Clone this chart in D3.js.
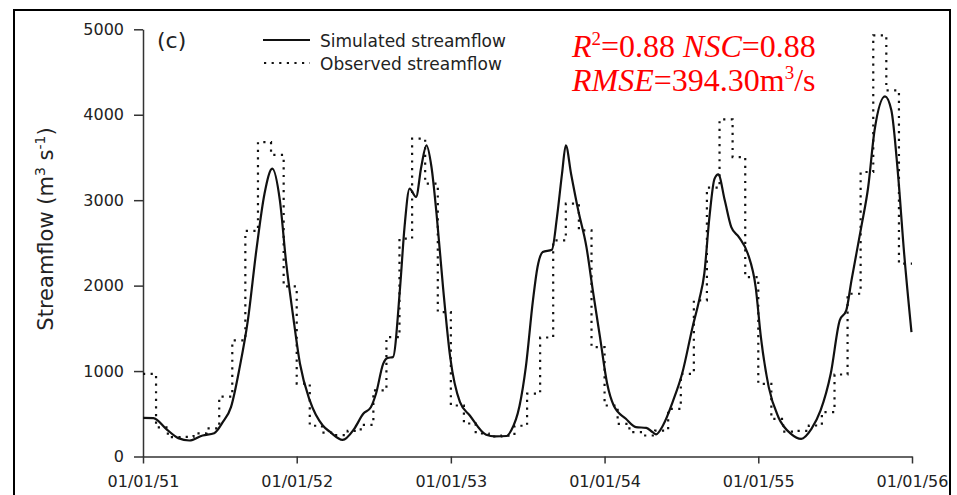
<!DOCTYPE html>
<html>
<head>
<meta charset="utf-8">
<script src="https://cdn.jsdelivr.net/npm/d3@7"></script>
<style>
  html, body { margin: 0; padding: 0; background: #fff; }
  svg { display: block; }
  .axis text { font-family: "DejaVu Sans", sans-serif; font-size: 16px; fill: #222; }
  .axis path, .axis line { stroke: #333; stroke-width: 1.5px; }
  .legend-text { font-family: "DejaVu Sans", sans-serif; font-size: 17px; fill: #222; }
  .stats { font-family: "Liberation Serif", "Times New Roman", serif; font-size: 32px; fill: #ff0000; }
</style>
</head>
<body>
<svg id="chart"></svg>
<script>
// Observed monthly streamflow (m3/s), Jan..Dec of each year
const obs1951 = [968, 340, 226, 230, 270, 330, 700, 1358, 2640, 3680, 3530, 1990];
const obs1952 = [854, 360, 280, 250, 300, 370, 773, 1397, 2549, 3720, 3193, 1690];
const obs1953 = [597, 386, 269, 234, 245, 360, 736, 1393, 2529, 2959, 2646, 1280];
const obs1954 = [597, 382, 285, 246, 304, 558, 968, 1827, 3146, 3946, 3505, 2100];
const obs1955 = [851, 441, 290, 300, 363, 519, 960, 1905, 3330, 4930, 4286, 2257];

// Simulated streamflow: position in months since 01/01/51 and value
const simMonths = [0, 0.8, 1.85, 2.8, 3.67, 4.7, 5.6, 6.27, 6.9, 7.57, 8.2, 8.87, 9.5, 10.1, 10.7, 11.2, 11.7,
  12.25, 13.0, 14.06, 14.6, 15.6, 16.5, 17.2, 17.8, 18.2, 18.75, 19.1, 19.5, 20.05, 20.4, 20.8, 21.3, 21.7, 22.1,
  22.5, 22.9, 23.4, 23.95, 24.7, 25.5, 26.8, 27.5, 28.4, 28.75, 29.4, 29.9, 30.45, 30.8, 31.2, 31.9, 32.3, 32.7,
  33.0, 33.4, 33.95, 34.6, 35.1, 35.65, 36.2, 36.7, 37.7, 38.5, 39.3, 39.8, 40.07, 40.6, 41.4, 42.1, 42.9, 43.4,
  43.8, 44.2, 44.6, 44.9, 45.4, 45.9, 46.5, 47.2, 47.8, 48.2, 48.8, 49.6, 50.6, 51.4, 52.2, 52.9, 53.7, 54.4,
  54.9, 55.3, 56.05, 56.6, 57.1, 57.9, 58.4, 58.9, 59.4, 59.96];
const simFlow = [453, 450, 324, 215, 187, 246, 273, 402, 578, 1046, 1593, 2412, 3076, 3369, 2998, 2256, 1671,
  1085, 656, 363, 290, 195, 324, 500, 577, 734, 1085, 1155, 1163, 1983, 2685, 3135, 3037, 3388, 3642,
  3388, 2842, 1983, 1163, 636, 480, 254, 235, 240, 304, 590, 1046, 1827, 2217, 2393, 2420, 2802, 3310,
  3642, 3310, 2881, 2451, 1944, 1397, 851, 597, 441, 343, 336, 285, 260, 363, 656, 968, 1514, 1827,
  2139, 2802, 3250, 3302, 2998, 2685, 2568, 2373, 1983, 1397, 812, 460, 265, 207, 324, 539, 968, 1593,
  1710, 2061, 2685, 3154, 3818, 4216, 4052, 3349, 2373, 1456];

const yTicks = [0, 1000, 2000, 3000, 4000, 5000];
const panelLabel = '(c)';
const legendLabels = ['Simulated streamflow', 'Observed streamflow'];

const width = 957, height = 495;
const margin = { top: 29.3, right: 45, bottom: 38.5, left: 143 };

const svg = d3.select('#chart').attr('width', width).attr('height', height);

const start = new Date(1951, 0, 1);
const end = new Date(1956, 0, 1);

// fractional month -> date
function monthDate(m) {
  const i = Math.floor(m);
  const a = d3.timeMonth.offset(start, i);
  const b = d3.timeMonth.offset(start, i + 1);
  return new Date(+a + (m - i) * (b - a));
}

const x = d3.scaleTime().domain([start, end]).range([margin.left, width - margin.right]);
const y = d3.scaleLinear().domain([0, 5000]).range([height - margin.bottom, margin.top]);

// frame round the panel
svg.append('rect')
  .attr('x', 14).attr('y', 10)
  .attr('width', 936).attr('height', 500)
  .attr('fill', 'none')
  .attr('stroke', '#000')
  .attr('stroke-width', 2);

// axes
svg.append('g')
  .attr('class', 'axis')
  .attr('transform', `translate(0,${y(0)})`)
  .call(d3.axisBottom(x)
    .ticks(d3.timeYear.every(1))
    .tickFormat(d3.timeFormat('%m/%d/%y'))
    .tickSize(7)
    .tickSizeOuter(0)
    .tickPadding(12));

svg.append('g')
  .attr('class', 'axis')
  .attr('transform', `translate(${margin.left},0)`)
  .call(d3.axisLeft(y)
    .tickValues(yTicks)
    .tickFormat(d3.format('d'))
    .tickSize(9)
    .tickSizeOuter(0)
    .tickPadding(10));

// y label
const yl = svg.append('text')
  .attr('transform', 'translate(53,229) rotate(-90)')
  .attr('text-anchor', 'middle')
  .attr('font-family', '"DejaVu Sans", sans-serif')
  .attr('font-size', 21)
  .attr('fill', '#222');
yl.append('tspan').text('Streamflow (m');
yl.append('tspan').attr('font-size', 14).attr('dy', -8).text('3');
yl.append('tspan').attr('dy', 8).text(' s');
yl.append('tspan').attr('font-size', 14).attr('dy', -8).text('-1');
yl.append('tspan').attr('dy', 8).text(')');

// observed, monthly steps
const obsFlow = [].concat(obs1951, obs1952, obs1953, obs1954, obs1955);
const obsPts = obsFlow.map((v, i) => ({ date: d3.timeMonth.offset(start, i), v }));
obsPts.push({ date: end, v: obsFlow[obsFlow.length - 1] });

const obsLine = d3.line()
  .x(d => x(d.date))
  .y(d => y(d.v))
  .curve(d3.curveStepAfter);

svg.append('path')
  .datum(obsPts)
  .attr('d', obsLine)
  .attr('fill', 'none')
  .attr('stroke', '#111')
  .attr('stroke-width', 2.2)
  .attr('stroke-dasharray', '2.2 5.4');

// simulated
const simPts = simMonths.map((m, i) => ({ date: monthDate(m), v: simFlow[i] }));
const simLine = d3.line()
  .x(d => x(d.date))
  .y(d => y(d.v))
  .curve(d3.curveMonotoneX);

svg.append('path')
  .datum(simPts)
  .attr('d', simLine)
  .attr('fill', 'none')
  .attr('stroke', '#111')
  .attr('stroke-width', 2.2)
  .attr('stroke-linejoin', 'round');

// panel label
svg.append('text')
  .attr('x', 157).attr('y', 48)
  .attr('font-family', '"DejaVu Sans", sans-serif')
  .attr('font-size', 22)
  .attr('fill', '#222')
  .text(panelLabel);

// legend
const legend = svg.append('g').attr('transform', 'translate(263,40)');
legend.append('line')
  .attr('x1', 0).attr('x2', 47).attr('y1', 0).attr('y2', 0)
  .attr('stroke', '#111').attr('stroke-width', 2.2);
legend.append('line')
  .attr('x1', 1).attr('x2', 47).attr('y1', 23).attr('y2', 23)
  .attr('stroke', '#111').attr('stroke-width', 2.2)
  .attr('stroke-dasharray', '2.2 5.4');
legend.selectAll('text.legend-text')
  .data(legendLabels)
  .enter()
  .append('text')
  .attr('class', 'legend-text')
  .attr('x', 57)
  .attr('y', (d, i) => 6.5 + i * 23)
  .text(d => d);

// fit statistics
const s1 = svg.append('text').attr('class', 'stats').attr('x', 572).attr('y', 57);
s1.append('tspan').attr('font-style', 'italic').text('R');
s1.append('tspan').attr('font-size', 19).attr('dy', -12).text('2');
s1.append('tspan').attr('dy', 12).text('=0.88 ');
s1.append('tspan').attr('font-style', 'italic').text('NSC');
s1.append('tspan').text('=0.88');

const s2 = svg.append('text').attr('class', 'stats').attr('x', 572).attr('y', 91);
s2.append('tspan').attr('font-style', 'italic').text('RMSE');
s2.append('tspan').text('=394.30m');
s2.append('tspan').attr('font-size', 19).attr('dy', -12).text('3');
s2.append('tspan').attr('dy', 12).text('/s');
</script>
</body>
</html>
